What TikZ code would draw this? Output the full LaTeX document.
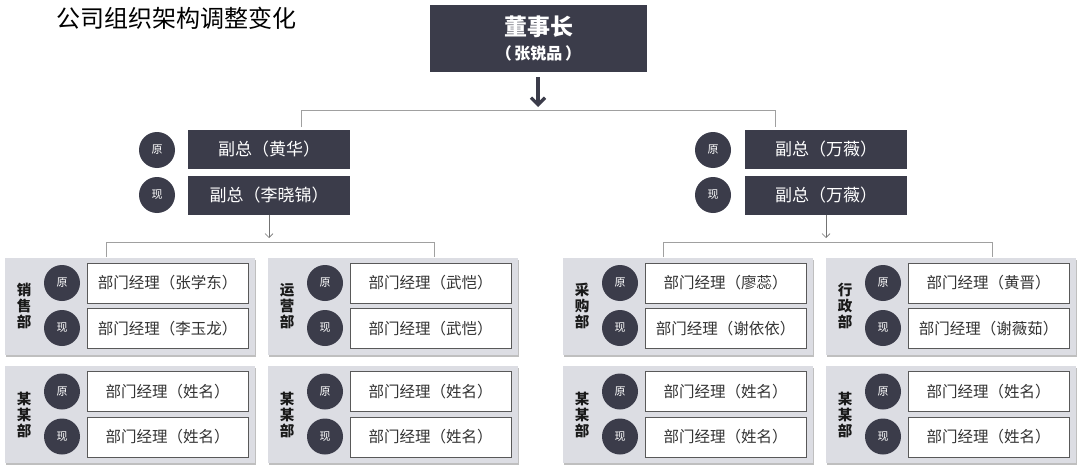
\documentclass[tikz,border=0pt]{standalone}
\usepackage{fontspec}
\setmainfont{Noto Sans CJK SC}
\usetikzlibrary{arrows.meta,shadows}
\definecolor{darkfill}{HTML}{3B3C4A}
\definecolor{panelgray}{HTML}{DCDDE3}
\definecolor{linegray}{HTML}{A0A0A0}
\definecolor{txtgray}{HTML}{333333}
\tikzset{
  chairbox/.style={fill=darkfill, text=white, inner sep=0pt, minimum width=217pt, minimum height=67pt},
  chairtext/.style={text=white, inner sep=0pt},
  vpbox/.style={fill=darkfill, text=white, inner sep=0pt, minimum width=162pt, minimum height=39pt, font=\fontsize{17}{19}\selectfont},
  badge/.style={circle, fill=darkfill, text=white, minimum size=36pt, inner sep=0pt, font=\fontsize{11}{12}\selectfont},
  mgrbox/.style={draw=black!65, line width=0.8pt, fill=white, text=txtgray, minimum width=161pt, minimum height=40pt, inner sep=0pt, font=\fontsize{15.5}{17}\selectfont},
  panelbox/.style={fill=panelgray, minimum width=250pt, minimum height=97pt, inner sep=0pt,
     drop shadow={shadow xshift=1pt, shadow yshift=-2pt, opacity=0.25, fill=black}},
  deptlabel/.style={align=center, text=black!90, inner sep=0pt, font=\fontsize{14.5}{16}\selectfont\bfseries},
  conn/.style={draw=linegray, line width=0.8pt},
  thinarrow/.style={draw=black!55, line width=0.7pt, -{Straight Barb[length=4pt,width=8pt]}},
  bigarrow/.style={draw=darkfill, line width=3.6pt, -{Straight Barb[length=7pt,width=14pt,line width=3.2pt]}}
}
\begin{document}
\begin{tikzpicture}[x=1pt,y=-1pt]
\useasboundingbox (0,0) rectangle (1080,471);
\fill[white] (0,0) rectangle (1080,471);

\node[anchor=west, inner sep=0pt, font=\fontsize{24}{26}\selectfont] (title) at (56,18) {公司组织架构调整变化};

\node[chairbox] (chair) at (538.5,38.5) {};
\node[chairtext, font=\fontsize{23}{26}\selectfont\bfseries] (chairname) at (538.5,27) {董事长};
\node[chairtext, font=\fontsize{16}{18}\selectfont\bfseries] (chairperson) at (538.5,53) {（\,张锐品\,）};

\coordinate (arrS) at (538,77);
\coordinate (arrE) at (538,107);
\draw[bigarrow] (arrS) -- (arrE);

\coordinate (ubl) at (301,127);
\coordinate (ubr) at (775,127);
\draw[conn] (ubl) -- ++(0,-17) -| (ubr);

% left vice president
\node[badge] (lo) at (157,150) {原};
\node[badge] (ln) at (157,195) {现};
\node[vpbox] (lvo) at (269,149.5) {副总（黄华）};
\node[vpbox] (lvn) at (269,195) {副总（李晓锦）};
% right vice president
\node[badge] (ro) at (713,150) {原};
\node[badge] (rn) at (713,195) {现};
\node[vpbox] (rvo) at (826,149.5) {副总（万薇）};
\node[vpbox] (rvn) at (826,195) {副总（万薇）};

\coordinate (la) at (269,238);
\coordinate (ra) at (826,238);
\draw[thinarrow] (lvn.south) -- (la);
\draw[thinarrow] (rvn.south) -- (ra);

\coordinate (lbl) at (106,257);
\coordinate (lbr) at (434,257);
\coordinate (rbl) at (663,257);
\coordinate (rbr) at (992,257);
\draw[conn] (lbl) -- ++(0,-15) -| (lbr);
\draw[conn] (rbl) -- ++(0,-15) -| (rbr);

\foreach \nm/\L/\Y/\lab/\ta/\tb in {
  pa/5/306/{销\\售\\部}/{部门经理（张学东）}/{部门经理（李玉龙）},
  pb/268/306/{运\\营\\部}/{部门经理（武恺）}/{部门经理（武恺）},
  pc/563/306/{采\\购\\部}/{部门经理（廖蕊）}/{部门经理（谢依依）},
  pd/826/306/{行\\政\\部}/{部门经理（黄晋）}/{部门经理（谢薇茹）},
  pe/5/414.5/{某\\某\\部}/{部门经理（姓名）}/{部门经理（姓名）},
  pf/268/414.5/{某\\某\\部}/{部门经理（姓名）}/{部门经理（姓名）},
  pg/563/414.5/{某\\某\\部}/{部门经理（姓名）}/{部门经理（姓名）},
  ph/826/414.5/{某\\某\\部}/{部门经理（姓名）}/{部门经理（姓名）}}{
  \node[panelbox] (\nm) at (\L+125,\Y) {};
  \node[deptlabel] (\nm-l) at (\L+19,\Y) {\lab};
  \node[badge] (\nm-o) at (\L+57,\Y-23) {原};
  \node[badge] (\nm-n) at (\L+57,\Y+22) {现};
  \node[mgrbox] (\nm-ob) at (\L+162.5,\Y-23) {\ta};
  \node[mgrbox] (\nm-nb) at (\L+162.5,\Y+22.5) {\tb};
}
\end{tikzpicture}
\end{document}
